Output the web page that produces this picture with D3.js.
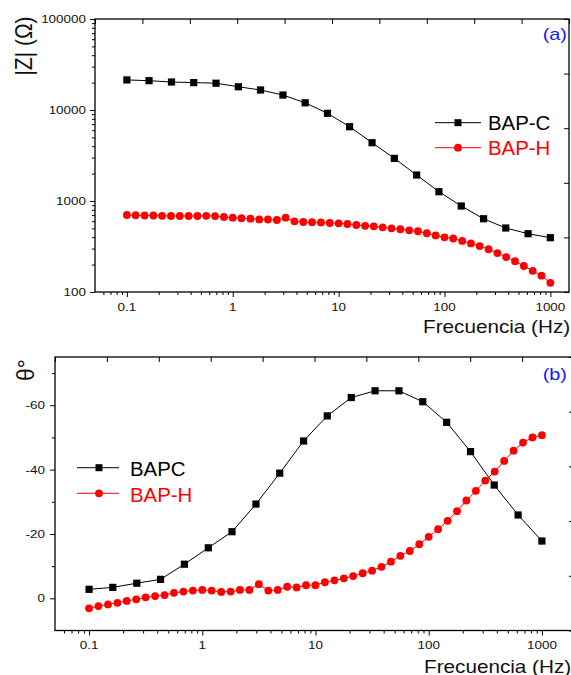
<!DOCTYPE html>
<html>
<head>
<meta charset="utf-8">
<script src="https://cdn.jsdelivr.net/npm/d3@7"></script>
<style>
  body { margin: 0; background: #fff; }
  text { font-family: Arial, "Liberation Sans", sans-serif; }
</style>
</head>
<body>
<svg id="chart" width="571" height="675"></svg>
<script>
// frequencies (Hz)
const freqC = [0.1, 0.162, 0.264, 0.428, 0.695, 1.13, 1.83, 2.98, 4.83, 7.85,
  12.7, 20.7, 33.6, 54.6, 88.6, 144, 234, 379, 616, 1000];
const freqH = [0.1, 0.121, 0.147, 0.178, 0.215, 0.261, 0.316, 0.383, 0.464, 0.562, 0.681, 0.825,
  1, 1.21, 1.47, 1.78, 2.15, 2.61, 3.16, 3.83, 4.64, 5.62, 6.81, 8.25,
  10, 12.1, 14.7, 17.8, 21.5, 26.1, 31.6, 38.3, 46.4, 56.2, 68.1, 82.5,
  100, 121, 147, 178, 215, 261, 316, 383, 464, 562, 681, 825, 1000];

// |Z| (ohm)
const zBAPC = [21400, 21000, 20300, 20000, 19700, 18000, 16600, 14600, 12000, 9200,
  6550, 4370, 2940, 1930, 1265, 881, 638, 505, 437, 395];
const zBAPH = [702, 697, 693, 693, 688, 684, 684, 684, 684, 688, 683, 667,
  656, 647, 639, 628, 626, 618, 656, 598, 588, 584, 581, 573,
  568, 559, 545, 534, 527, 514, 501, 489, 476, 465, 442, 419,
  399, 387, 364, 342, 320, 295, 268, 242, 218, 193, 171, 151, 126];

// phase (deg)
const thetaBAPC = [-2.8, -3.4, -4.7, -5.9, -10.6, -15.7, -20.7, -29.3, -38.9, -48.9,
  -56.7, -62.4, -64.5, -64.5, -61.1, -54.7, -45.6, -35.2, -25.9, -17.8];
const thetaBAPH = [3.1, 2.4, 1.9, 1.4, 0.8, 0.3, -0.3, -0.7, -1.0, -1.7, -2.1, -2.4,
  -2.6, -2.4, -2.0, -2.1, -2.6, -2.6, -4.4, -2.4, -2.6, -3.6, -3.4, -4.1,
  -4.1, -5.0, -5.6, -6.2, -6.9, -7.8, -8.6, -9.8, -11.4, -13.2, -14.7, -16.8,
  -19.1, -21.5, -24.1, -27.1, -30.4, -33.4, -36.6, -39.4, -42.7, -45.9, -48.4, -50.0, -50.7];

const xTicks = [0.1, 1, 10, 100, 1000];
const xTickLabels = ['0.1', '1', '10', '100', '1000'];
const zTicks = [100, 1000, 10000, 100000];
const thetaTicks = [-60, -40, -20, 0];
const thetaMinor = [-70, -50, -30, -10];

const svg = d3.select('#chart');
const SX = 1.17; // picture is a bit wider than tall

function label(g, x, y, str, size, anchor, opts) {
  opts = opts || {};
  let tr = `translate(${x},${y}) scale(${opts.sx || SX},1)`;
  if (opts.rot) tr += ` rotate(${opts.rot})`;
  return g.append('text')
    .attr('transform', tr)
    .attr('text-anchor', anchor)
    .attr('font-size', size)
    .attr('font-family', opts.family || null)
    .attr('fill', opts.color || '#111')
    .text(str);
}

function minorLog(lo, hi) {
  let out = [];
  for (let p = -2; p <= 5; p++) {
    for (let m = 2; m <= 9; m++) {
      let v = m * Math.pow(10, p);
      if (v > lo && v < hi) out.push(v);
    }
  }
  return out;
}

function tickAxis(g, axis, tx, ty) {
  let a = g.append('g').attr('transform', `translate(${tx},${ty})`).call(axis);
  a.select('.domain').remove();
  a.selectAll('line').attr('stroke', '#000').attr('stroke-width', 1);
  a.selectAll('text').remove();
  return a;
}

function drawSeries(g, x, y, xs, ys, color, shape) {
  const pts = xs.map((f, i) => [x(f), y(ys[i])]);
  g.append('path')
    .attr('d', d3.line()(pts))
    .attr('fill', 'none')
    .attr('stroke', color)
    .attr('stroke-width', 1);
  if (shape === 'square') {
    g.selectAll(null).data(pts).enter().append('rect')
      .attr('x', d => d[0] - 3.6).attr('y', d => d[1] - 3.6)
      .attr('width', 7.2).attr('height', 7.2)
      .attr('fill', color);
  } else {
    g.selectAll(null).data(pts).enter().append('circle')
      .attr('cx', d => d[0]).attr('cy', d => d[1])
      .attr('r', 3.9)
      .attr('fill', color);
  }
}

function legendItem(g, x1, x2, xm, y, color, shape, text, tx, base) {
  g.append('line').attr('x1', x1).attr('x2', x2).attr('y1', y).attr('y2', y)
    .attr('stroke', color).attr('stroke-width', 1);
  if (shape === 'square') {
    g.append('rect').attr('x', xm - 3.5).attr('y', y - 3.5).attr('width', 7).attr('height', 7).attr('fill', color);
  } else {
    g.append('circle').attr('cx', xm).attr('cy', y).attr('r', 3.9).attr('fill', color);
  }
  label(g, tx, base, text, 20, 'start', { sx: 1.02, color: color });
}

// ---------- panel (a) ----------
const gA = svg.append('g');
const xA = d3.scaleLog().domain([0.05, 1500]).range([95, 569]);
const yA = d3.scaleLog().domain([100, 100000]).range([292, 19]);

tickAxis(gA, d3.axisBottom(xA).tickValues(xTicks).tickSize(5).tickFormat(''), 0, 292);
tickAxis(gA, d3.axisBottom(xA).tickValues(minorLog(0.05, 1500)).tickSize(3).tickFormat(''), 0, 292);
tickAxis(gA, d3.axisLeft(yA).tickValues(zTicks).tickSize(5).tickFormat(''), 95, 0);
tickAxis(gA, d3.axisLeft(yA).tickValues(minorLog(100, 100000)).tickSize(3).tickFormat(''), 95, 0);
const topA = d3.scaleLinear().domain([0, 10]).range([95, 569]);
tickAxis(gA, d3.axisTop(topA).ticks(10).tickSize(-5).tickFormat(''), 0, 19);
const rightA = d3.scaleLinear().domain([0, 5]).range([292, 19]);
tickAxis(gA, d3.axisRight(rightA).ticks(5).tickSize(-5).tickFormat(''), 569, 0);

gA.append('rect').attr('x', 95).attr('y', 19).attr('width', 474).attr('height', 273)
  .attr('fill', 'none').attr('stroke', '#000').attr('stroke-width', 1.3);

zTicks.forEach(v => label(gA, 86, yA(v) + 4.1, d3.format('d')(v), 11.5, 'end'));
xTicks.forEach((v, i) => label(gA, xA(v), 310.6, xTickLabels[i], 11.5, 'middle'));
label(gA, 423, 333.4, 'Frecuencia (Hz)', 17.7, 'start');
label(gA, 32, 46, '|Z| (\u03A9)', 21, 'middle', { rot: -90 });
label(gA, 567, 40, '(a)', 17, 'end', { color: '#1515ff' });

drawSeries(gA, xA, yA, freqC, zBAPC, '#000', 'square');
drawSeries(gA, xA, yA, freqH, zBAPH, '#ff0000', 'circle');

legendItem(gA, 435, 481, 458, 122.7, '#000', 'square', 'BAP-C', 488, 129.5);
legendItem(gA, 435, 481, 458, 147.7, '#ff0000', 'circle', 'BAP-H', 488, 155);

// ---------- panel (b) ----------
const gB = svg.append('g');
const xB = d3.scaleLog().domain([0.05, 2000]).range([55, 576]);
const yB = d3.scaleLinear().domain([10, -75]).range([630.5, 357]);

tickAxis(gB, d3.axisBottom(xB).tickValues(xTicks).tickSize(5).tickFormat(''), 0, 630.5);
tickAxis(gB, d3.axisBottom(xB).tickValues(minorLog(0.05, 2000)).tickSize(3).tickFormat(''), 0, 630.5);
tickAxis(gB, d3.axisLeft(yB).tickValues(thetaTicks).tickSize(5).tickFormat(''), 55, 0);
tickAxis(gB, d3.axisLeft(yB).tickValues(thetaMinor).tickSize(3).tickFormat(''), 55, 0);
const topB = d3.scaleLinear().domain([0, 10]).range([55, 574]);
tickAxis(gB, d3.axisTop(topB).ticks(10).tickSize(-5).tickFormat(''), 0, 357);
const rightB = d3.scaleLinear().domain([0, 5]).range([630.5, 357]);
tickAxis(gB, d3.axisRight(rightB).ticks(5).tickSize(-5).tickFormat(''), 574, 0);

gB.append('rect').attr('x', 55).attr('y', 357).attr('width', 519).attr('height', 273.5)
  .attr('fill', 'none').attr('stroke', '#000').attr('stroke-width', 1.3);

thetaTicks.forEach(v => label(gB, 45, yB(v) + 4.1, String(v), 11.5, 'end'));
xTicks.forEach((v, i) => label(gB, xB(v), 649, xTickLabels[i], 11.5, 'middle'));
label(gB, 424, 672.7, 'Frecuencia (Hz)', 17.7, 'start');
label(gB, 33.5, 370, '\u03B8\u00B0', 23, 'middle', { rot: -90, sx: 1.0, family: '"Liberation Serif", "Times New Roman", serif' });
label(gB, 567, 380, '(b)', 17, 'end', { color: '#1515ff' });

drawSeries(gB, xB, yB, freqC, thetaBAPC, '#000', 'square');
drawSeries(gB, xB, yB, freqH, thetaBAPH, '#ff0000', 'circle');

legendItem(gB, 77, 119, 99, 467.7, '#000', 'square', 'BAPC', 130, 475.7);
legendItem(gB, 77, 119, 99, 493.3, '#ff0000', 'circle', 'BAP-H', 130, 501.7);
</script>
</body>
</html>
